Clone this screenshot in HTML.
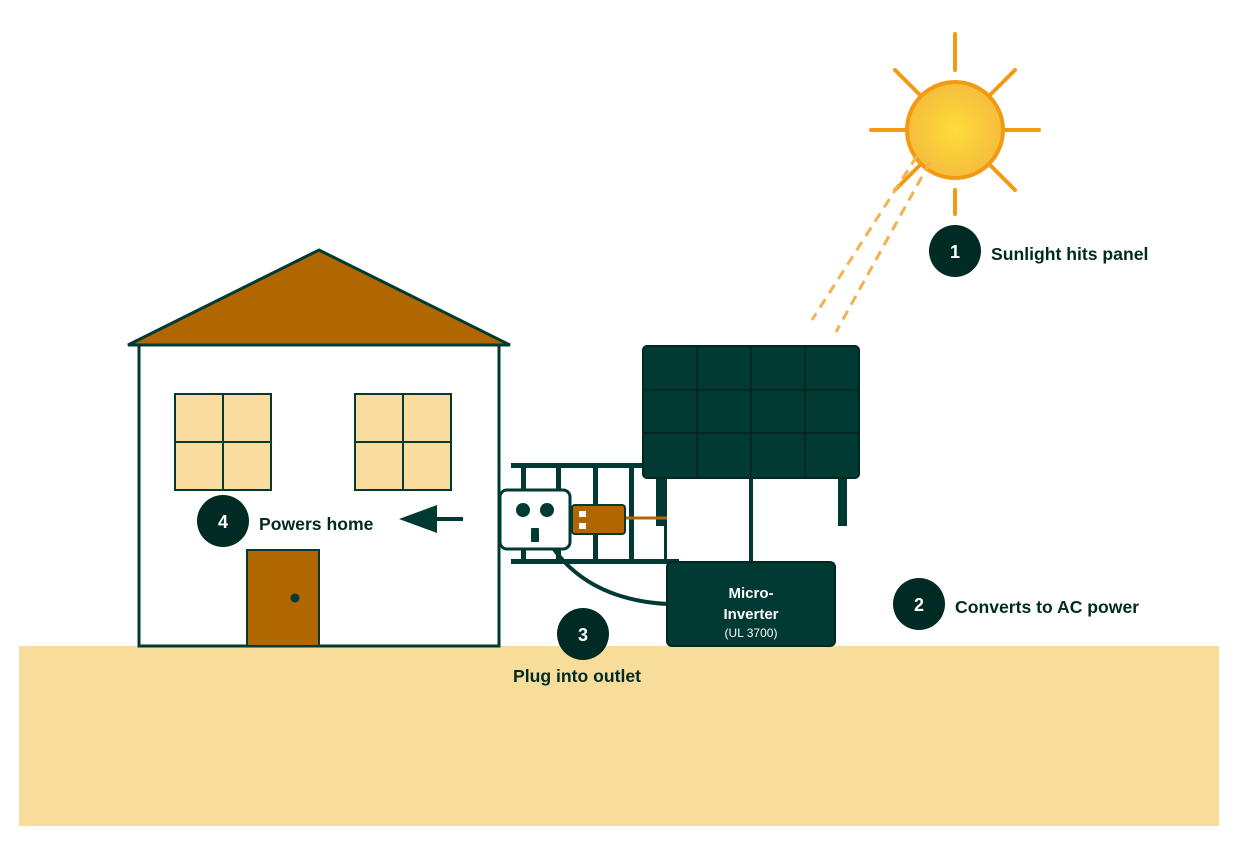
<!DOCTYPE html>
<html><head><style>body{margin:0;background:#fff}svg{display:block}text{font-family:"Liberation Sans",sans-serif;font-weight:bold}</style></head><body>
<svg width="1258" height="845" viewBox="0 0 1258 845">
<defs><radialGradient id="sg"><stop offset="0" stop-color="#fddc3a"/><stop offset="1" stop-color="#f6bd3c"/></radialGradient></defs>
<rect x="19" y="646" width="1200" height="180" fill="#f8dc9a"/>
<!-- sun -->
<g stroke="#f29a12" stroke-width="4" stroke-linecap="round">
<line x1="955" y1="34" x2="955" y2="70"/><line x1="955" y1="190" x2="955" y2="214"/>
<line x1="871" y1="130" x2="905" y2="130"/><line x1="1005" y1="130" x2="1039" y2="130"/>
<line x1="895" y1="70" x2="921" y2="96"/><line x1="1015" y1="70" x2="989" y2="96"/>
<line x1="895" y1="190" x2="921" y2="164"/><line x1="1015" y1="190" x2="989" y2="164"/>
</g>
<circle cx="955" cy="130" r="48" fill="url(#sg)" stroke="#f29a12" stroke-width="4"/>
<g stroke="#f4b14f" stroke-width="3" stroke-dasharray="10,7">
<line x1="917" y1="156" x2="812" y2="320"/><line x1="930" y1="162" x2="836" y2="332"/>
</g>
<!-- house -->
<rect x="139" y="345" width="360" height="301" fill="#fff" stroke="#003a33" stroke-width="3"/>
<polygon points="128,345 319,250 510,345" fill="#b06700" stroke="#003a33" stroke-width="3"/>
<g fill="#f9dc9e" stroke="#003a33" stroke-width="2">
<rect x="175" y="394" width="96" height="96"/><rect x="355" y="394" width="96" height="96"/></g>
<g stroke="#003a33" stroke-width="2"><line x1="223" y1="394" x2="223" y2="490"/><line x1="175" y1="442" x2="271" y2="442"/><line x1="403" y1="394" x2="403" y2="490"/><line x1="355" y1="442" x2="451" y2="442"/></g>
<rect x="247" y="550" width="72" height="96" fill="#b06700" stroke="#003a33" stroke-width="2"/>
<circle cx="295" cy="598" r="4.5" fill="#003a33"/>
<!-- fence -->
<g fill="#003a33">
<rect x="511" y="463" width="135" height="5"/><rect x="511" y="559" width="168" height="5"/>
<rect x="521" y="463" width="5" height="100"/><rect x="556" y="463" width="5" height="100"/><rect x="593" y="463" width="5" height="100"/><rect x="629" y="463" width="5" height="100"/>
<rect x="664" y="470" width="3" height="92"/>
<rect x="656" y="476" width="9" height="50"/><rect x="838" y="476" width="9" height="50"/>
<rect x="749" y="476" width="4" height="88"/>
</g>
<!-- panel -->
<rect x="643" y="346" width="216" height="132" rx="4" fill="#003a33" stroke="#002720" stroke-width="2"/>
<g stroke="#002720" stroke-width="2"><line x1="697" y1="346" x2="697" y2="478"/><line x1="751" y1="346" x2="751" y2="478"/><line x1="805" y1="346" x2="805" y2="478"/><line x1="643" y1="390" x2="859" y2="390"/><line x1="643" y1="433" x2="859" y2="433"/></g>
<!-- cable -->
<path d="M553 548 Q590 600 668 604" fill="none" stroke="#003a33" stroke-width="4"/>
<line x1="624" y1="518" x2="667" y2="518" stroke="#b06700" stroke-width="3"/>
<!-- outlet -->
<rect x="500" y="490" width="70" height="59" rx="7" fill="#fff" stroke="#003a33" stroke-width="3"/>
<circle cx="523" cy="510" r="7" fill="#003a33"/><circle cx="547" cy="510" r="7" fill="#003a33"/>
<rect x="531" y="528" width="8" height="14" rx="1" fill="#003a33"/>
<rect x="572" y="505" width="53" height="29" rx="3" fill="#b06700" stroke="#003a33" stroke-width="2"/>
<rect x="579" y="511" width="7" height="6" fill="#fff"/><rect x="579" y="523" width="7" height="6" fill="#fff"/>
<!-- inverter -->
<rect x="667" y="562" width="168" height="84" rx="5" fill="#003a33" stroke="#002720" stroke-width="2"/>
<text x="751" y="598" font-size="15" fill="#fff" text-anchor="middle">Micro-</text>
<text x="751" y="619" font-size="15" fill="#fff" text-anchor="middle">Inverter</text>
<text x="751" y="637" font-size="12" fill="#fff" text-anchor="middle" style="font-weight:normal">(UL 3700)</text>
<!-- arrow -->
<line x1="463" y1="519" x2="425" y2="519" stroke="#003a33" stroke-width="4"/>
<polygon points="399,519 437,505 437,533" fill="#003a33"/>
<!-- badges -->
<g fill="#002a24"><circle cx="955" cy="251" r="26"/><circle cx="919" cy="604" r="26"/><circle cx="583" cy="634" r="26"/><circle cx="223" cy="521" r="26"/></g>
<g fill="#fff" font-size="18" text-anchor="middle"><text x="955" y="258">1</text><text x="919" y="611">2</text><text x="583" y="641">3</text><text x="223" y="528">4</text></g>
<g fill="#002a24" font-size="17.6">
<text x="991" y="260">Sunlight hits panel</text>
<text x="955" y="613">Converts to AC power</text>
<text x="577" y="682" text-anchor="middle">Plug into outlet</text>
<text x="259" y="530">Powers home</text>
</g>
</svg>
</body></html>
